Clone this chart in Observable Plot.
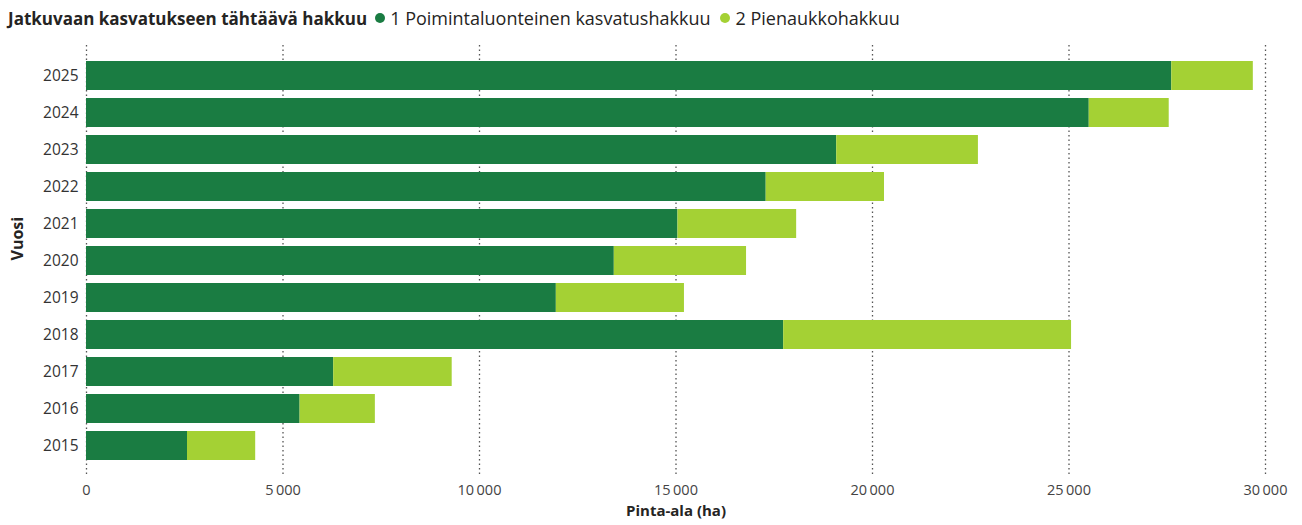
<!DOCTYPE html>
<html><head><meta charset="utf-8">
<script src="https://cdn.jsdelivr.net/npm/d3@7"></script>
<script src="https://cdn.jsdelivr.net/npm/@observablehq/plot@0.6"></script>
<style>
body{margin:0;background:#fff;font-family:"Open Sans",sans-serif;}
#legend{height:36px;display:flex;align-items:center;padding-left:8px;font-size:18px;color:#252423;white-space:nowrap;box-sizing:border-box}
#legend .title{font-weight:700;font-size:17px;margin-right:8px}
#legend .item{display:flex;align-items:center;margin-right:10px}
#legend .dot{width:10px;height:10px;border-radius:50%;display:inline-block;margin-right:5px}
#chart svg{display:block}
</style></head><body>
<div id="legend"></div><div id="chart"></div>
<script>
const years = ["2015","2016","2017","2018","2019","2020","2021","2022","2023","2024","2025"];
const poiminta = [2570, 5435, 6290, 17740, 11955, 13430, 15050, 17295, 19090, 25515, 27615];
const pienaukko = [1735, 1915, 3015, 7325, 3260, 3365, 3020, 3010, 3605, 2035, 2075];
const seriesNames = ["1 Poimintaluonteinen kasvatushakkuu", "2 Pienaukkohakkuu"];
const colors = ["#1a7c42", "#a4d134"];
const legendTitle = "Jatkuvaan kasvatukseen tähtäävä hakkuu";
const xTicks = [0, 5000, 10000, 15000, 20000, 25000, 30000];
const xLabel = "Pinta-ala (ha)";
const yLabel = "Vuosi";

const data = [];
years.forEach((y, i) => {
  data.push({year: y, series: seriesNames[0], value: poiminta[i]});
  data.push({year: y, series: seriesNames[1], value: pienaukko[i]});
});
const fmt = d => d3.format(",")(d).replace(/,/g, "\u2009");

// legend
const lg = document.getElementById("legend");
const t = document.createElement("span"); t.className = "title"; t.textContent = legendTitle; lg.appendChild(t);
seriesNames.forEach((s, i) => {
  const it = document.createElement("span"); it.className = "item";
  const d = document.createElement("span"); d.className = "dot"; d.style.background = colors[i];
  const tx = document.createElement("span"); tx.textContent = s;
  it.appendChild(d); it.appendChild(tx); lg.appendChild(it);
});

const chart = Plot.plot({
  width: 1302, height: 489,
  marginLeft: 86, marginRight: 37, marginTop: 9, marginBottom: 50,
  style: {fontFamily: "Open Sans, sans-serif", fontSize: "14px", color: "#444", background: "#fff"},
  x: {domain: [0, 30000], label: null},
  y: {domain: years.slice().reverse(), paddingInner: 0.22, paddingOuter: 0.4, label: null},
  color: {domain: seriesNames, range: colors},
  marks: [
    Plot.ruleX(xTicks, {stroke: "#555", strokeDasharray: "1.5,3", strokeWidth: 1.3}),
    Plot.barX(data, Plot.stackX({x: "value", y: "year", fill: "series", order: seriesNames})),
    Plot.axisX({ticks: xTicks, tickFormat: fmt, tickSize: 0, tickPadding: 9, fontSize: 14.5, label: null, fill: "#444"}),
    Plot.axisY({tickSize: 0, tickPadding: 8, fontSize: 15.5, label: null, fill: "#333"}),
    Plot.text([xLabel], {text: d => d, frameAnchor: "bottom", dy: 40, fontWeight: "bold", fontSize: 15, fill: "#252423"}),
    Plot.text([yLabel], {text: d => d, frameAnchor: "left", dx: -69, rotate: -90, fontWeight: "bold", fontSize: 16, fill: "#252423"})
  ]
});
document.getElementById("chart").appendChild(chart);
</script>
</body></html>
